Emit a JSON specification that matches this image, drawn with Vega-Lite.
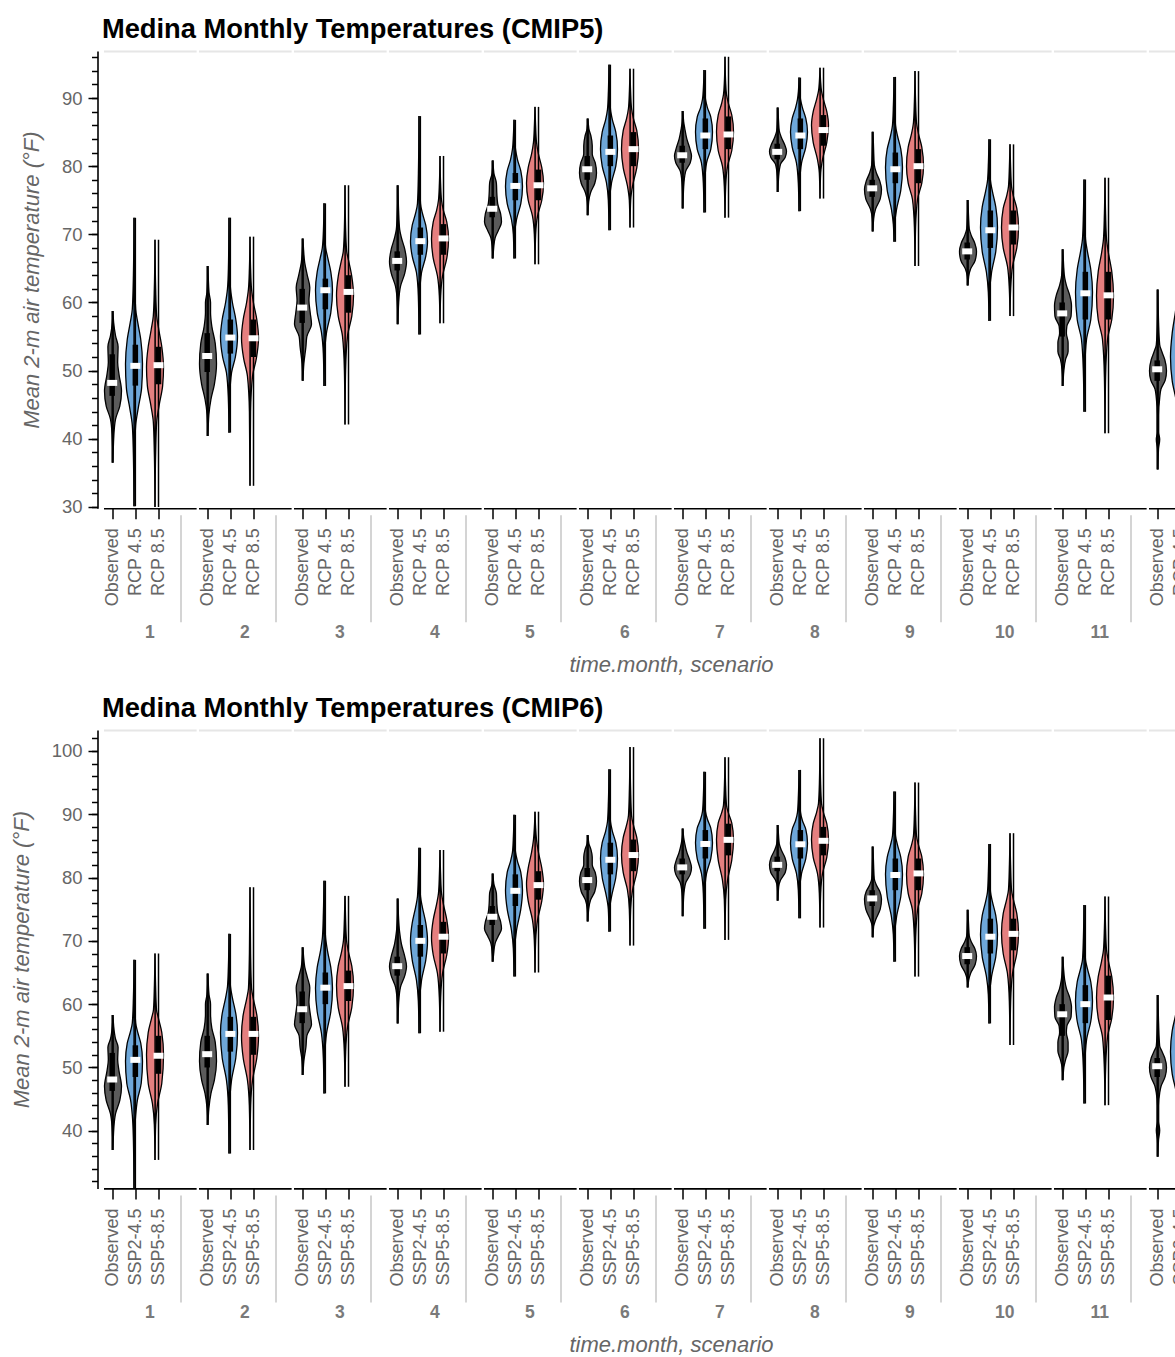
{
"$schema": "https://vega.github.io/schema/vega-lite/v6.json",
"background": "white",
"padding": {"left": 8.5, "top": 16, "right": 0, "bottom": 0},
"datasets": {
"c5": [
{"m":1,"s":"Observed","lo":36.5,"q1":46.3,"med":48.2,"q3":52.4,"hi":58.75,"t":[36.5,40.5,42.9,44.8,47.0,49.5,51.2,53.5,55.1,57,58.75],"w":[0,0.1,0.3,0.8,1,0.7,0.55,0.6,0.3,0.08,0]},
{"m":1,"s":"RCP 4.5","lo":30.1,"q1":47.8,"med":50.7,"q3":53.8,"hi":72.45,"t":[30.1,38,42,44.5,47.5,51,54.5,57,59,64,72.45],"w":[0,0.08,0.2,0.5,0.9,1,0.8,0.45,0.2,0.07,0]},
{"m":1,"s":"RCP 8.5","lo":30,"q1":48,"med":50.8,"q3":53.5,"hi":69.2,"t":[30,38,42.5,45,47.8,50.5,53.5,56,58,62,69.2],"w":[0,0.08,0.2,0.5,0.9,1,0.8,0.45,0.2,0.08,0]},
{"m":2,"s":"Observed","lo":40.4,"q1":49.8,"med":52.15,"q3":55.5,"hi":65.35,"t":[40.4,43.5,45.8,48,51,54,56.5,58.5,60,61.5,65.35],"w":[0,0.1,0.35,0.75,1,0.85,0.45,0.3,0.3,0.12,0]},
{"m":2,"s":"RCP 4.5","lo":40.9,"q1":52.5,"med":54.85,"q3":57.5,"hi":72.45,"t":[40.9,46,49.7,52,55,57.5,60,62,65,72.45],"w":[0,0.08,0.3,0.75,1,0.8,0.4,0.18,0.07,0]},
{"m":2,"s":"RCP 8.5","lo":33.1,"q1":52,"med":54.75,"q3":57.5,"hi":69.66,"t":[33.1,44,49.2,51.8,54.8,57.5,60,62,65,69.66],"w":[0,0.07,0.3,0.75,1,0.8,0.4,0.18,0.07,0]},
{"m":3,"s":"Observed","lo":48.5,"q1":57,"med":59.25,"q3":62,"hi":69.4,"t":[48.5,51,53.6,55,56.8,58.5,60.3,62.2,64,65.85,67.5,69.4],"w":[0,0.1,0.35,0.45,1,0.85,0.7,0.8,0.5,0.2,0.08,0]},
{"m":3,"s":"RCP 4.5","lo":47.75,"q1":59,"med":61.8,"q3":63.5,"hi":74.55,"t":[47.75,52.5,55.6,58.5,61.8,64.5,66.5,68,70.5,74.55],"w":[0,0.08,0.3,0.8,1,0.8,0.45,0.2,0.07,0]},
{"m":3,"s":"RCP 8.5","lo":42.1,"q1":58.5,"med":61.55,"q3":64,"hi":77.2,"t":[42.1,50,55.1,58,61,63.8,66,67.5,71,77.2],"w":[0,0.07,0.3,0.8,1,0.8,0.45,0.2,0.07,0]},
{"m":4,"s":"Observed","lo":56.8,"q1":64.7,"med":66.1,"q3":67.5,"hi":77.2,"t":[56.8,60,62.4,64.3,66,67.8,69.5,70.7,73.5,77.2],"w":[0,0.08,0.3,0.8,1,0.8,0.4,0.2,0.07,0]},
{"m":4,"s":"RCP 4.5","lo":55.3,"q1":67,"med":69,"q3":71,"hi":87.35,"t":[55.3,61,64.4,66.8,69,71.3,73.1,74.5,79,87.35],"w":[0,0.08,0.3,0.8,1,0.8,0.4,0.18,0.07,0]},
{"m":4,"s":"RCP 8.5","lo":56.95,"q1":67,"med":69.4,"q3":71.5,"hi":81.5,"t":[56.95,61,63.9,66.5,69.3,71.8,73.5,75,77.5,81.5],"w":[0,0.08,0.3,0.8,1,0.8,0.4,0.18,0.07,0]},
{"m":5,"s":"Observed","lo":66.45,"q1":72.5,"med":73.75,"q3":75.5,"hi":80.85,"t":[66.45,68,69.5,70.5,71.8,73,74.5,76,77.5,79,80.85],"w":[0,0.08,0.25,0.6,1,0.9,0.55,0.45,0.4,0.1,0]},
{"m":5,"s":"RCP 4.5","lo":66.45,"q1":75,"med":77.1,"q3":79,"hi":86.8,"t":[66.45,70,72.2,74.5,77,79.3,81,82.5,84.5,86.8],"w":[0,0.08,0.3,0.8,1,0.8,0.4,0.18,0.07,0]},
{"m":5,"s":"RCP 8.5","lo":65.6,"q1":75,"med":77.2,"q3":79.5,"hi":88.7,"t":[65.6,70,72.7,75,77.5,79.8,81.8,83.5,86,88.7],"w":[0,0.08,0.3,0.8,1,0.8,0.4,0.18,0.07,0]},
{"m":6,"s":"Observed","lo":72.8,"q1":78,"med":79.55,"q3":81.5,"hi":87,"t":[72.8,74.8,76.1,77.5,79,80.5,81.8,83,84.4,85.5,87],"w":[0,0.08,0.3,0.8,1,0.85,0.5,0.5,0.35,0.1,0]},
{"m":6,"s":"RCP 4.5","lo":70.6,"q1":80,"med":82.1,"q3":84.5,"hi":94.9,"t":[70.6,75,77.6,80,82.5,85,86.8,88.3,91,94.9],"w":[0,0.08,0.3,0.8,1,0.8,0.4,0.18,0.07,0]},
{"m":6,"s":"RCP 8.5","lo":71,"q1":80,"med":82.5,"q3":85,"hi":94.3,"t":[71,75,77.1,79.8,82.5,85.2,87,88.5,91,94.3],"w":[0,0.08,0.3,0.8,1,0.8,0.4,0.18,0.07,0]},
{"m":7,"s":"Observed","lo":73.8,"q1":80.5,"med":81.6,"q3":83,"hi":88.1,"t":[73.8,77,79.2,80.5,81.5,82.6,84,85.6,86.5,88.1],"w":[0,0.08,0.3,0.85,1,0.8,0.45,0.2,0.08,0]},
{"m":7,"s":"RCP 4.5","lo":73.2,"q1":82.5,"med":84.5,"q3":87,"hi":94.1,"t":[73.2,77.5,80.5,82.5,85,87.2,88.6,89.8,91.5,94.1],"w":[0,0.08,0.3,0.8,1,0.8,0.4,0.18,0.07,0]},
{"m":7,"s":"RCP 8.5","lo":72.45,"q1":82.5,"med":84.65,"q3":87.3,"hi":96.05,"t":[72.45,77,80,82.3,85,87.5,89.2,90.5,92.5,96.05],"w":[0,0.08,0.3,0.8,1,0.8,0.4,0.18,0.07,0]},
{"m":8,"s":"Observed","lo":76.2,"q1":81,"med":82.1,"q3":83.3,"hi":88.6,"t":[76.2,78.5,80.3,81.3,82.2,83.1,84.2,85.2,86.5,88.6],"w":[0,0.08,0.3,0.85,1,0.8,0.4,0.15,0.07,0]},
{"m":8,"s":"RCP 4.5","lo":73.4,"q1":82.5,"med":84.5,"q3":87,"hi":93,"t":[73.4,77.5,80.5,82.8,85,87,88.6,89.8,91,93],"w":[0,0.08,0.3,0.8,1,0.8,0.4,0.18,0.07,0]},
{"m":8,"s":"RCP 8.5","lo":75.25,"q1":83,"med":85.3,"q3":87.5,"hi":94.45,"t":[75.25,79,81,83.5,86,88,89.8,91,92.5,94.45],"w":[0,0.08,0.3,0.8,1,0.8,0.4,0.18,0.07,0]},
{"m":9,"s":"Observed","lo":70.4,"q1":75.5,"med":76.75,"q3":78,"hi":85.05,"t":[70.4,72.3,73.7,75.2,76.6,77.8,79,80.2,82.5,85.05],"w":[0,0.08,0.3,0.85,1,0.8,0.4,0.15,0.07,0]},
{"m":9,"s":"RCP 4.5","lo":68.9,"q1":77.5,"med":79.55,"q3":82,"hi":93.1,"t":[68.9,71.5,73.65,76.5,79.8,82.5,84.5,86,89,93.1],"w":[0,0.08,0.3,0.8,1,0.8,0.4,0.18,0.07,0]},
{"m":9,"s":"RCP 8.5","lo":65.35,"q1":77.5,"med":80,"q3":82.5,"hi":93.95,"t":[65.35,71,75.15,77.5,80,82.8,84.8,86.4,89.5,93.95],"w":[0,0.07,0.3,0.8,1,0.8,0.4,0.18,0.07,0]},
{"m":10,"s":"Observed","lo":62.5,"q1":66.3,"med":67.5,"q3":68.8,"hi":75.05,"t":[62.5,63.8,64.9,66.2,67.5,68.7,69.8,70.8,72.5,75.05],"w":[0,0.08,0.3,0.85,1,0.8,0.4,0.15,0.07,0]},
{"m":10,"s":"RCP 4.5","lo":57.3,"q1":68,"med":70.6,"q3":73.5,"hi":83.95,"t":[57.3,61.5,64.4,67.5,71,74,76.3,77.8,80.5,83.95],"w":[0,0.08,0.3,0.8,1,0.8,0.4,0.18,0.07,0]},
{"m":10,"s":"RCP 8.5","lo":58,"q1":68.5,"med":71,"q3":73.5,"hi":83.2,"t":[58,62,65.35,68,71,73.8,75.6,77,80,83.2],"w":[0,0.08,0.3,0.8,1,0.8,0.4,0.18,0.07,0]},
{"m":11,"s":"Observed","lo":47.75,"q1":55,"med":58.4,"q3":60,"hi":67.8,"t":[47.75,50,51.65,52.8,54.1,55.5,56.5,58,59.5,61,62.5,63.6,65.5,67.8],"w":[0,0.1,0.3,0.6,0.6,0.4,0.45,0.95,1,0.8,0.4,0.2,0.07,0]},
{"m":11,"s":"RCP 4.5","lo":43.95,"q1":57.5,"med":61.35,"q3":64.5,"hi":78.05,"t":[43.95,50,54.6,57.5,61.5,64.8,67.5,69.3,73,78.05],"w":[0,0.08,0.3,0.8,1,0.8,0.4,0.18,0.07,0]},
{"m":11,"s":"RCP 8.5","lo":40.8,"q1":57.5,"med":61.05,"q3":64.5,"hi":78.3,"t":[40.8,49,54.6,57.5,61,64.5,67.3,69.3,73,78.3],"w":[0,0.07,0.3,0.8,1,0.8,0.4,0.18,0.07,0]},
{"m":12,"s":"Observed","lo":35.5,"q1":48.5,"med":50.2,"q3":51.5,"hi":61.9,"t":[35.5,38.5,39.9,41,43.5,46,47.3,48.6,50,51.6,52.8,53.8,57,61.9],"w":[0,0.06,0.2,0.08,0.08,0.2,0.35,0.85,1,0.8,0.45,0.2,0.07,0]},
{"m":12,"s":"RCP 4.5","lo":29.8,"q1":49.5,"med":52.3,"q3":55,"hi":68.9,"t":[29.8,40,45.3,48.5,52,55.5,58.8,61.45,65,68.9],"w":[0,0.07,0.3,0.8,1,0.8,0.4,0.18,0.07,0]},
{"m":12,"s":"RCP 8.5","lo":33.8,"q1":49,"med":52.25,"q3":55,"hi":71.7,"t":[33.8,41,45.8,48.8,52,55,57.5,59.5,65,71.7],"w":[0,0.07,0.3,0.8,1,0.8,0.4,0.18,0.07,0]}
],
"c6": [
{"m":1,"s":"Observed","lo":36.95,"q1":46.3,"med":48.1,"q3":52.3,"hi":58.3,"t":[36.95,40.5,42.7,44.8,47,49.5,51.2,53.2,54.5,56.5,58.3],"w":[0,0.1,0.3,0.8,1,0.7,0.55,0.6,0.3,0.08,0]},
{"m":1,"s":"SSP2-4.5","lo":30.9,"q1":48.5,"med":51.2,"q3":53.5,"hi":67,"t":[30.9,39,42.5,44.85,47.5,51,53.8,55.5,57,61,67],"w":[0,0.08,0.2,0.4,0.85,1,0.8,0.45,0.2,0.07,0]},
{"m":1,"s":"SSP5-8.5","lo":35.4,"q1":49,"med":51.85,"q3":55,"hi":68,"t":[35.4,41,44.3,47.5,52,55.5,57.8,59.1,63,68],"w":[0,0.08,0.3,0.8,1,0.8,0.4,0.18,0.07,0]},
{"m":2,"s":"Observed","lo":40.9,"q1":50,"med":52.1,"q3":55,"hi":64.85,"t":[40.9,43.5,45.9,48,51,54,56.2,58.5,60,61.5,64.85],"w":[0,0.1,0.35,0.75,1,0.85,0.45,0.3,0.3,0.12,0]},
{"m":2,"s":"SSP2-4.5","lo":36.4,"q1":52.5,"med":55.3,"q3":58,"hi":71.1,"t":[36.4,44,48,51.5,55.5,58.5,61,62.75,66,71.1],"w":[0,0.08,0.3,0.8,1,0.8,0.4,0.18,0.07,0]},
{"m":2,"s":"SSP5-8.5","lo":36.95,"q1":52,"med":55.3,"q3":58,"hi":78.45,"t":[36.95,44,48,51.5,55,58.3,60.8,62.5,68,78.45],"w":[0,0.08,0.3,0.8,1,0.8,0.4,0.18,0.07,0]},
{"m":3,"s":"Observed","lo":48.8,"q1":57,"med":59.2,"q3":62,"hi":69,"t":[48.8,51,53.3,55,56.8,58.5,60.3,62.6,64.3,65.9,67.3,69],"w":[0,0.1,0.35,0.45,1,0.85,0.7,0.8,0.5,0.2,0.08,0]},
{"m":3,"s":"SSP2-4.5","lo":45.9,"q1":60,"med":62.6,"q3":65,"hi":79.5,"t":[45.9,51.5,55.4,58.8,62.5,65.8,68.5,70.65,74.5,79.5],"w":[0,0.08,0.3,0.8,1,0.8,0.4,0.18,0.07,0]},
{"m":3,"s":"SSP5-8.5","lo":46.95,"q1":60.5,"med":62.85,"q3":65.3,"hi":77.1,"t":[46.95,52.5,56.4,59.5,63,66,68.3,70.1,73.5,77.1],"w":[0,0.08,0.3,0.8,1,0.8,0.4,0.18,0.07,0]},
{"m":4,"s":"Observed","lo":56.95,"q1":64.5,"med":66,"q3":67.5,"hi":76.7,"t":[56.95,60.3,62.75,64.5,66,67.5,69.5,71.5,73.5,76.7],"w":[0,0.08,0.3,0.8,1,0.8,0.4,0.18,0.07,0]},
{"m":4,"s":"SSP2-4.5","lo":55.4,"q1":67.5,"med":70,"q3":72.5,"hi":84.7,"t":[55.4,60.5,63.8,67,70,72.8,75.3,77,80.5,84.7],"w":[0,0.08,0.3,0.8,1,0.8,0.4,0.18,0.07,0]},
{"m":4,"s":"SSP5-8.5","lo":55.65,"q1":68,"med":70.65,"q3":73,"hi":84.35,"t":[55.65,61,64.85,67.8,70.5,73.3,75.8,77.5,80.5,84.35],"w":[0,0.08,0.3,0.8,1,0.8,0.4,0.18,0.07,0]},
{"m":5,"s":"Observed","lo":66.7,"q1":72.5,"med":73.8,"q3":75.5,"hi":80.65,"t":[66.7,68,69.6,70.7,71.9,73,74.5,75.9,77.5,79,80.65],"w":[0,0.08,0.25,0.6,1,0.9,0.55,0.45,0.4,0.1,0]},
{"m":5,"s":"SSP2-4.5","lo":64.35,"q1":75.5,"med":77.9,"q3":80.5,"hi":89.9,"t":[64.35,68.8,71.7,75,78,80.8,82.6,84,86.5,89.9],"w":[0,0.08,0.3,0.8,1,0.8,0.4,0.18,0.07,0]},
{"m":5,"s":"SSP5-8.5","lo":65,"q1":76.5,"med":78.8,"q3":81,"hi":90.4,"t":[65,70,73.3,76.3,79,81.5,84,85.95,88,90.4],"w":[0,0.08,0.3,0.8,1,0.8,0.4,0.18,0.07,0]},
{"m":6,"s":"Observed","lo":73.05,"q1":78,"med":79.6,"q3":81.5,"hi":86.7,"t":[73.05,75,76.45,77.8,79.4,80.8,82,83.2,84.4,85.4,86.7],"w":[0,0.08,0.3,0.8,1,0.85,0.5,0.5,0.35,0.1,0]},
{"m":6,"s":"SSP2-4.5","lo":71.45,"q1":80.5,"med":82.8,"q3":85.5,"hi":97.1,"t":[71.45,75,77,80,83,85.5,87.3,88.8,92,97.1],"w":[0,0.08,0.3,0.8,1,0.8,0.4,0.18,0.07,0]},
{"m":6,"s":"SSP5-8.5","lo":69.25,"q1":81,"med":83.55,"q3":86,"hi":100.6,"t":[69.25,75,78.05,80.8,83.6,86.3,88.3,89.8,94,100.6],"w":[0,0.08,0.3,0.8,1,0.8,0.4,0.18,0.07,0]},
{"m":7,"s":"Observed","lo":73.9,"q1":80.5,"med":81.6,"q3":83,"hi":87.75,"t":[73.9,77,79.1,80.5,81.6,82.7,84,85.4,86.3,87.75],"w":[0,0.08,0.3,0.85,1,0.8,0.45,0.2,0.08,0]},
{"m":7,"s":"SSP2-4.5","lo":71.9,"q1":83,"med":85.3,"q3":87.5,"hi":96.7,"t":[71.9,77.5,80.65,83,85.5,87.8,89.2,90.4,93,96.7],"w":[0,0.08,0.3,0.8,1,0.8,0.4,0.18,0.07,0]},
{"m":7,"s":"SSP5-8.5","lo":70.15,"q1":83.5,"med":85.95,"q3":88.5,"hi":99,"t":[70.15,76.5,79.6,82.8,86,88.6,90.2,91.4,94.5,99],"w":[0,0.08,0.3,0.8,1,0.8,0.4,0.18,0.07,0]},
{"m":8,"s":"Observed","lo":76.35,"q1":81,"med":82,"q3":83.3,"hi":88.3,"t":[76.35,78.5,79.6,80.8,82,83.2,84.3,85.3,86.5,88.3],"w":[0,0.08,0.3,0.85,1,0.8,0.4,0.15,0.07,0]},
{"m":8,"s":"SSP2-4.5","lo":73.55,"q1":83,"med":85.25,"q3":87.5,"hi":97,"t":[73.55,78,80.65,83,85.4,87.6,89,90.3,93,97],"w":[0,0.08,0.3,0.8,1,0.8,0.4,0.18,0.07,0]},
{"m":8,"s":"SSP5-8.5","lo":72.1,"q1":83.5,"med":85.8,"q3":88,"hi":102,"t":[72.1,77.5,80.65,83.2,86,88.5,90.3,91.7,95,102],"w":[0,0.08,0.3,0.8,1,0.8,0.4,0.18,0.07,0]},
{"m":9,"s":"Observed","lo":70.55,"q1":75.5,"med":76.7,"q3":78,"hi":84.9,"t":[70.55,72.3,73.3,75,76.6,77.8,78.8,79.8,82,84.9],"w":[0,0.08,0.3,0.85,1,0.8,0.4,0.15,0.07,0]},
{"m":9,"s":"SSP2-4.5","lo":66.7,"q1":78,"med":80.4,"q3":83,"hi":93.6,"t":[66.7,71,73.8,77,80.5,83.2,85.2,86.6,89.5,93.6],"w":[0,0.08,0.3,0.8,1,0.8,0.4,0.18,0.07,0]},
{"m":9,"s":"SSP5-8.5","lo":64.35,"q1":78,"med":80.65,"q3":83,"hi":95,"t":[64.35,70.5,74.9,77.5,80.5,83.3,85.2,86.6,90,95],"w":[0,0.08,0.3,0.8,1,0.8,0.4,0.18,0.07,0]},
{"m":10,"s":"Observed","lo":62.65,"q1":66.3,"med":67.6,"q3":69,"hi":74.9,"t":[62.65,63.8,64.85,66.3,67.6,68.8,69.8,70.8,72.5,74.9],"w":[0,0.08,0.3,0.85,1,0.8,0.4,0.15,0.07,0]},
{"m":10,"s":"SSP2-4.5","lo":56.95,"q1":68,"med":70.65,"q3":73.5,"hi":85.3,"t":[56.95,61.5,64.35,67.5,71,74,76.2,77.7,81,85.3],"w":[0,0.08,0.3,0.8,1,0.8,0.4,0.18,0.07,0]},
{"m":10,"s":"SSP5-8.5","lo":53.55,"q1":68.5,"med":71.1,"q3":73.5,"hi":87,"t":[53.55,60.5,64.85,68,71.2,74.3,76.5,78.05,82,87],"w":[0,0.08,0.3,0.8,1,0.8,0.4,0.18,0.07,0]},
{"m":11,"s":"Observed","lo":48,"q1":55,"med":58.4,"q3":60,"hi":67.5,"t":[48,50,51.2,52.6,54,55.5,56.5,58,59.5,61,62.5,63.8,65.5,67.5],"w":[0,0.1,0.3,0.6,0.6,0.4,0.45,0.95,1,0.8,0.4,0.2,0.07,0]},
{"m":11,"s":"SSP2-4.5","lo":44.3,"q1":57,"med":60,"q3":63,"hi":75.65,"t":[44.3,50,54.35,57.3,60.5,63.5,65.6,67,70.5,75.65],"w":[0,0.08,0.3,0.8,1,0.8,0.4,0.18,0.07,0]},
{"m":11,"s":"SSP5-8.5","lo":44.05,"q1":57.5,"med":61.05,"q3":64.5,"hi":77,"t":[44.05,50,54.85,57.8,61,64.3,66.8,68.55,72,77],"w":[0,0.08,0.3,0.8,1,0.8,0.4,0.18,0.07,0]},
{"m":12,"s":"Observed","lo":35.9,"q1":48.5,"med":50.2,"q3":51.5,"hi":61.45,"t":[35.9,38.5,40.1,41.5,44,46,47,48.6,50,51.5,52.6,53.4,57,61.45],"w":[0,0.06,0.2,0.08,0.08,0.2,0.35,0.85,1,0.8,0.45,0.2,0.07,0]},
{"m":12,"s":"SSP2-4.5","lo":36.7,"q1":49.5,"med":52.2,"q3":55,"hi":73.8,"t":[36.7,42,45.9,49,52.5,55.8,58.3,60.1,66,73.8],"w":[0,0.08,0.3,0.8,1,0.8,0.4,0.18,0.07,0]},
{"m":12,"s":"SSP5-8.5","lo":35.6,"q1":50.5,"med":53.65,"q3":56,"hi":72.5,"t":[35.6,42,46,49.5,53.5,57,59.3,60.65,66,72.5],"w":[0,0.08,0.3,0.8,1,0.8,0.4,0.18,0.07,0]}
]
},
"columns": 2,
"spacing": {"row": 19, "column": 0},
"concat": [
{
"title": {"text": "M", "color": "rgba(255,255,255,0)"},
"width": 1, "height": 457.3,
"data": {"name": "c5"},
"resolve": {"axis": {"y": "independent"}},
"layer": [
{"mark": {"type": "point", "opacity": 0},
 "encoding": {
  "x": {"field": "lo", "type": "quantitative", "scale": {"zero": false}, "axis": null},
  "y": {"field": "lo", "type": "quantitative", "scale": {"domain": [29.8, 96.9], "nice": false, "zero": false},
  "axis": {"orient": "left", "values": [30, 40, 50, 60, 70, 80, 90], "tickSize": 9.5, "labelFontSize": 18.5, "labelPadding": 6, "title": "Mean 2-m air temperature (°F)", "titleFontSize": 22, "titleFontStyle": "italic", "titleFontWeight": "normal", "titlePadding": 18, "domain": true}}}},
{"mark": {"type": "point", "opacity": 0},
 "encoding": {
  "x": {"field": "lo", "type": "quantitative", "scale": {"zero": false}, "axis": null},
  "y": {"field": "lo", "type": "quantitative", "scale": {"domain": [29.8, 96.9], "nice": false, "zero": false},
  "axis": {"orient": "left", "values": [30,32,34,36,38,40,42,44,46,48,50,52,54,56,58,60,62,64,66,68,70,72,74,76,78,80,82,84,86,88,90,92,94,96], "tickSize": 6, "labels": false, "domain": false, "title": "Mean 2-m air temperature (°F)", "titleColor": "rgba(255,255,255,0)", "titleFontSize": 22, "titleFontStyle": "italic", "titleFontWeight": "normal", "titlePadding": 58.5}}}}
]
},
{
"title": {"text": "Medina Monthly Temperatures (CMIP5)"},
"data": {"name": "c5"},
"transform": [{"flatten": ["t", "w"]}],
"facet": {"column": {"field": "m", "type": "ordinal", "title": "time.month, scenario\u00a0\u00a0\u00a0\u00a0\u00a0", "header": {"labelExpr": "datum.label + '\u00a0\u00a0\u00a0\u00a0\u00a0\u00a0'"}}},
"spacing": {"column": 0},
"resolve": {"axis": {"x": "independent"}},
"spec": {
"width": 92.64, "height": 457.3,
"resolve": {"scale": {"x": "independent"}},
"layer": [
{"transform": [{"filter": {"field": "s", "equal": "Observed"}}],
 "mark": {"type": "area", "orient": "horizontal", "interpolate": "monotone", "fill": "#5b5b5b", "fillOpacity": 1, "stroke": "#000", "strokeWidth": 1.3},
 "encoding": {
  "y": {"field": "t", "type": "quantitative", "scale": {"domain": [29.8, 96.9], "nice": false, "zero": false}, "axis": null},
  "x": {"field": "w", "type": "quantitative", "scale": {"domain": [-1.1176, 9.7814], "nice": false, "zero": false}, "axis": {"orient": "bottom", "values": [7.9412], "tickSize": 107, "tickColor": "#d4d4d4", "tickWidth": 2, "labels": false, "domain": false, "title": null, "offset": 6.5, "grid": false}},
  "x2": {"datum": 0}}},
{"transform": [{"filter": {"field": "s", "equal": "Observed"}}],
 "mark": {"type": "area", "orient": "horizontal", "interpolate": "monotone", "fill": "#5b5b5b", "fillOpacity": 1, "stroke": "#000", "strokeWidth": 1.3},
 "encoding": {
  "y": {"field": "t", "type": "quantitative", "scale": {"domain": [29.8, 96.9], "nice": false, "zero": false}, "axis": null},
  "x": {"field": "w", "type": "quantitative", "scale": {"domain": [-9.7814, 1.1176], "reverse": true, "nice": false, "zero": false}, "axis": null},
  "x2": {"datum": 0}}},
{"transform": [{"filter": {"field": "s", "equal": "RCP 4.5"}}],
 "mark": {"type": "area", "orient": "horizontal", "interpolate": "monotone", "fill": "#6ea7d9", "fillOpacity": 1, "stroke": "#000", "strokeWidth": 1.3},
 "encoding": {
  "y": {"field": "t", "type": "quantitative", "scale": {"domain": [29.8, 96.9], "nice": false, "zero": false}, "axis": null},
  "x": {"field": "w", "type": "quantitative", "scale": {"domain": [-3.5882, 7.3108], "nice": false, "zero": false}, "axis": {"orient": "top", "ticks": false, "labels": false, "domain": true, "domainColor": "#e6e6e6", "domainWidth": 2, "title": null, "grid": false}},
  "x2": {"datum": 0}}},
{"transform": [{"filter": {"field": "s", "equal": "RCP 4.5"}}],
 "mark": {"type": "area", "orient": "horizontal", "interpolate": "monotone", "fill": "#6ea7d9", "fillOpacity": 1, "stroke": "#000", "strokeWidth": 1.3},
 "encoding": {
  "y": {"field": "t", "type": "quantitative", "scale": {"domain": [29.8, 96.9], "nice": false, "zero": false}, "axis": null},
  "x": {"field": "w", "type": "quantitative", "scale": {"domain": [-7.3108, 3.5882], "reverse": true, "nice": false, "zero": false}, "axis": null},
  "x2": {"datum": 0}}},
{"transform": [{"filter": {"field": "s", "equal": "RCP 8.5"}}],
 "mark": {"type": "area", "orient": "horizontal", "interpolate": "monotone", "fill": "#e57f7f", "fillOpacity": 1, "stroke": "#000", "strokeWidth": 1.3},
 "encoding": {
  "y": {"field": "t", "type": "quantitative", "scale": {"domain": [29.8, 96.9], "nice": false, "zero": false}, "axis": null},
  "x": {"field": "w", "type": "quantitative", "scale": {"domain": [-6.0588, 4.8402], "nice": false, "zero": false}, "axis": null},
  "x2": {"datum": 0}}},
{"transform": [{"filter": {"field": "s", "equal": "RCP 8.5"}}],
 "mark": {"type": "area", "orient": "horizontal", "interpolate": "monotone", "fill": "#e57f7f", "fillOpacity": 1, "stroke": "#000", "strokeWidth": 1.3},
 "encoding": {
  "y": {"field": "t", "type": "quantitative", "scale": {"domain": [29.8, 96.9], "nice": false, "zero": false}, "axis": null},
  "x": {"field": "w", "type": "quantitative", "scale": {"domain": [-4.8402, 6.0588], "reverse": true, "nice": false, "zero": false}, "axis": null},
  "x2": {"datum": 0}}},
{"transform": [{"filter": "datum.t == datum.lo"}],
 "mark": {"type": "rule", "color": "#000", "strokeWidth": 1.5},
 "encoding": {
  "x": {"field": "s", "type": "nominal", "scale": {"type": "point", "domain": ["Observed", "RCP 4.5", "RCP 8.5"], "padding": 1.2057, "align": 0.1876}, "axis": {"orient": "bottom", "title": null, "labelAngle": -90, "labelFontSize": 18, "labelPadding": 9, "tickSize": 10.5, "domain": true}},
  "y": {"field": "lo", "type": "quantitative", "scale": {"domain": [29.8, 96.9], "nice": false, "zero": false}, "axis": null},
  "y2": {"field": "hi"}}},
{"transform": [{"filter": "datum.t == datum.lo"}],
 "mark": {"type": "rule", "color": "#000", "strokeWidth": 5.5},
 "encoding": {
  "x": {"field": "s", "type": "nominal", "scale": {"type": "point", "domain": ["Observed", "RCP 4.5", "RCP 8.5"], "padding": 1.2057, "align": 0.1876}, "axis": null},
  "y": {"field": "q1", "type": "quantitative", "scale": {"domain": [29.8, 96.9], "nice": false, "zero": false}, "axis": null},
  "y2": {"field": "q3"}}},
{"transform": [{"filter": "datum.t == datum.lo"}],
 "mark": {"type": "point", "filled": true, "fill": "#fff", "fillOpacity": 1, "strokeWidth": 0, "size": 100, "shape": "M-1,-0.6L1,-0.6L1,0.6L-1,0.6Z"},
 "encoding": {
  "x": {"field": "s", "type": "nominal", "scale": {"type": "point", "domain": ["Observed", "RCP 4.5", "RCP 8.5"], "padding": 1.2057, "align": 0.1876}, "axis": null},
  "y": {"field": "med", "type": "quantitative", "scale": {"domain": [29.8, 96.9], "nice": false, "zero": false}, "axis": null}}}
]
}
},
{
"title": {"text": "M", "color": "rgba(255,255,255,0)"},
"width": 1, "height": 458.4,
"data": {"name": "c6"},
"resolve": {"axis": {"y": "independent"}},
"layer": [
{"mark": {"type": "point", "opacity": 0},
 "encoding": {
  "x": {"field": "lo", "type": "quantitative", "scale": {"zero": false}, "axis": null},
  "y": {"field": "lo", "type": "quantitative", "scale": {"domain": [30.9, 103.3], "nice": false, "zero": false},
  "axis": {"orient": "left", "values": [40, 50, 60, 70, 80, 90, 100], "tickSize": 9.5, "labelFontSize": 18.5, "labelPadding": 6, "title": "Mean 2-m air temperature (°F)", "titleFontSize": 22, "titleFontStyle": "italic", "titleFontWeight": "normal", "titlePadding": 18, "domain": true}}}},
{"mark": {"type": "point", "opacity": 0},
 "encoding": {
  "x": {"field": "lo", "type": "quantitative", "scale": {"zero": false}, "axis": null},
  "y": {"field": "lo", "type": "quantitative", "scale": {"domain": [30.9, 103.3], "nice": false, "zero": false},
  "axis": {"orient": "left", "values": [32,34,36,38,40,42,44,46,48,50,52,54,56,58,60,62,64,66,68,70,72,74,76,78,80,82,84,86,88,90,92,94,96,98,100,102], "tickSize": 6, "labels": false, "domain": false, "title": null}}}}
]
},
{
"title": {"text": "Medina Monthly Temperatures (CMIP6)"},
"data": {"name": "c6"},
"transform": [{"flatten": ["t", "w"]}],
"facet": {"column": {"field": "m", "type": "ordinal", "title": "time.month, scenario\u00a0\u00a0\u00a0\u00a0\u00a0", "header": {"labelExpr": "datum.label + '\u00a0\u00a0\u00a0\u00a0\u00a0\u00a0'"}}},
"spacing": {"column": 0},
"resolve": {"axis": {"x": "independent"}},
"spec": {
"width": 92.64, "height": 458.4,
"resolve": {"scale": {"x": "independent"}},
"layer": [
{"transform": [{"filter": {"field": "s", "equal": "Observed"}}],
 "mark": {"type": "area", "orient": "horizontal", "interpolate": "monotone", "fill": "#5b5b5b", "fillOpacity": 1, "stroke": "#000", "strokeWidth": 1.3},
 "encoding": {
  "y": {"field": "t", "type": "quantitative", "scale": {"domain": [30.9, 103.3], "nice": false, "zero": false}, "axis": null},
  "x": {"field": "w", "type": "quantitative", "scale": {"domain": [-1.1176, 9.7814], "nice": false, "zero": false}, "axis": {"orient": "bottom", "values": [7.9412], "tickSize": 107, "tickColor": "#d4d4d4", "tickWidth": 2, "labels": false, "domain": false, "title": null, "offset": 6.5, "grid": false}},
  "x2": {"datum": 0}}},
{"transform": [{"filter": {"field": "s", "equal": "Observed"}}],
 "mark": {"type": "area", "orient": "horizontal", "interpolate": "monotone", "fill": "#5b5b5b", "fillOpacity": 1, "stroke": "#000", "strokeWidth": 1.3},
 "encoding": {
  "y": {"field": "t", "type": "quantitative", "scale": {"domain": [30.9, 103.3], "nice": false, "zero": false}, "axis": null},
  "x": {"field": "w", "type": "quantitative", "scale": {"domain": [-9.7814, 1.1176], "reverse": true, "nice": false, "zero": false}, "axis": null},
  "x2": {"datum": 0}}},
{"transform": [{"filter": {"field": "s", "equal": "SSP2-4.5"}}],
 "mark": {"type": "area", "orient": "horizontal", "interpolate": "monotone", "fill": "#6ea7d9", "fillOpacity": 1, "stroke": "#000", "strokeWidth": 1.3},
 "encoding": {
  "y": {"field": "t", "type": "quantitative", "scale": {"domain": [30.9, 103.3], "nice": false, "zero": false}, "axis": null},
  "x": {"field": "w", "type": "quantitative", "scale": {"domain": [-3.5882, 7.3108], "nice": false, "zero": false}, "axis": {"orient": "top", "ticks": false, "labels": false, "domain": true, "domainColor": "#e6e6e6", "domainWidth": 2, "title": null, "grid": false}},
  "x2": {"datum": 0}}},
{"transform": [{"filter": {"field": "s", "equal": "SSP2-4.5"}}],
 "mark": {"type": "area", "orient": "horizontal", "interpolate": "monotone", "fill": "#6ea7d9", "fillOpacity": 1, "stroke": "#000", "strokeWidth": 1.3},
 "encoding": {
  "y": {"field": "t", "type": "quantitative", "scale": {"domain": [30.9, 103.3], "nice": false, "zero": false}, "axis": null},
  "x": {"field": "w", "type": "quantitative", "scale": {"domain": [-7.3108, 3.5882], "reverse": true, "nice": false, "zero": false}, "axis": null},
  "x2": {"datum": 0}}},
{"transform": [{"filter": {"field": "s", "equal": "SSP5-8.5"}}],
 "mark": {"type": "area", "orient": "horizontal", "interpolate": "monotone", "fill": "#e57f7f", "fillOpacity": 1, "stroke": "#000", "strokeWidth": 1.3},
 "encoding": {
  "y": {"field": "t", "type": "quantitative", "scale": {"domain": [30.9, 103.3], "nice": false, "zero": false}, "axis": null},
  "x": {"field": "w", "type": "quantitative", "scale": {"domain": [-6.0588, 4.8402], "nice": false, "zero": false}, "axis": null},
  "x2": {"datum": 0}}},
{"transform": [{"filter": {"field": "s", "equal": "SSP5-8.5"}}],
 "mark": {"type": "area", "orient": "horizontal", "interpolate": "monotone", "fill": "#e57f7f", "fillOpacity": 1, "stroke": "#000", "strokeWidth": 1.3},
 "encoding": {
  "y": {"field": "t", "type": "quantitative", "scale": {"domain": [30.9, 103.3], "nice": false, "zero": false}, "axis": null},
  "x": {"field": "w", "type": "quantitative", "scale": {"domain": [-4.8402, 6.0588], "reverse": true, "nice": false, "zero": false}, "axis": null},
  "x2": {"datum": 0}}},
{"transform": [{"filter": "datum.t == datum.lo"}],
 "mark": {"type": "rule", "color": "#000", "strokeWidth": 1.5},
 "encoding": {
  "x": {"field": "s", "type": "nominal", "scale": {"type": "point", "domain": ["Observed", "SSP2-4.5", "SSP5-8.5"], "padding": 1.2057, "align": 0.1876}, "axis": {"orient": "bottom", "title": null, "labelAngle": -90, "labelFontSize": 18, "labelPadding": 9, "tickSize": 10.5, "domain": true}},
  "y": {"field": "lo", "type": "quantitative", "scale": {"domain": [30.9, 103.3], "nice": false, "zero": false}, "axis": null},
  "y2": {"field": "hi"}}},
{"transform": [{"filter": "datum.t == datum.lo"}],
 "mark": {"type": "rule", "color": "#000", "strokeWidth": 5.5},
 "encoding": {
  "x": {"field": "s", "type": "nominal", "scale": {"type": "point", "domain": ["Observed", "SSP2-4.5", "SSP5-8.5"], "padding": 1.2057, "align": 0.1876}, "axis": null},
  "y": {"field": "q1", "type": "quantitative", "scale": {"domain": [30.9, 103.3], "nice": false, "zero": false}, "axis": null},
  "y2": {"field": "q3"}}},
{"transform": [{"filter": "datum.t == datum.lo"}],
 "mark": {"type": "point", "filled": true, "fill": "#fff", "fillOpacity": 1, "strokeWidth": 0, "size": 100, "shape": "M-1,-0.6L1,-0.6L1,0.6L-1,0.6Z"},
 "encoding": {
  "x": {"field": "s", "type": "nominal", "scale": {"type": "point", "domain": ["Observed", "SSP2-4.5", "SSP5-8.5"], "padding": 1.2057, "align": 0.1876}, "axis": null},
  "y": {"field": "med", "type": "quantitative", "scale": {"domain": [30.9, 103.3], "nice": false, "zero": false}, "axis": null}}}
]
}
}
],
"config": {
"font": "Liberation Sans",
"view": {"stroke": null},
"axis": {"labelFont": "Liberation Sans", "titleFont": "Liberation Sans", "grid": false, "domainColor": "#000", "domainWidth": 1.6, "tickColor": "#000", "tickWidth": 1.5, "labelColor": "#666666", "titleColor": "#666666"},
"header": {"labelOrient": "bottom", "titleOrient": "bottom", "labelFont": "Liberation Sans", "labelFontSize": 17.5, "labelFontWeight": "bold", "labelColor": "#7a7a7a", "labelPadding": 1, "titleFont": "Liberation Sans", "titleFontSize": 22, "titleFontStyle": "italic", "titleFontWeight": "normal", "titleColor": "#666666", "titlePadding": 3},
"title": {"font": "Liberation Sans", "fontSize": 27.3, "fontWeight": "bold", "color": "#000", "anchor": "start", "offset": 7.7}
}
}
